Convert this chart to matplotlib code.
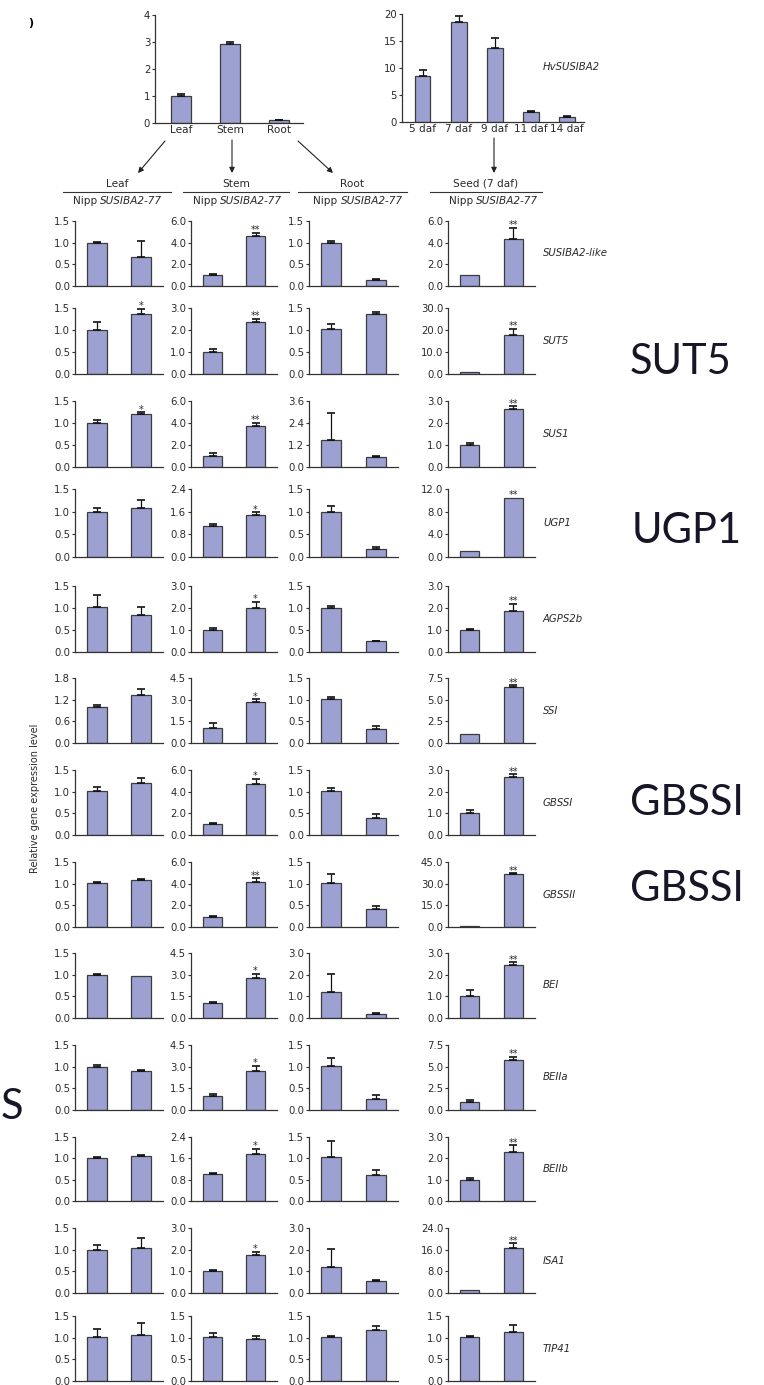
import matplotlib
matplotlib.use("Agg")
import matplotlib.pyplot as plt
import numpy as np

W, H = 764, 1385
plt.rcParams["font.family"] = "DejaVu Sans"
plt.rcParams["font.size"] = 7

BAR = "#9ca1d2"
EDGE = "#3c3c3c"
SPINE = "#333333"
TXT = "#2a2a2a"

# --------------------------------------------------------------------------- #
# Data
# --------------------------------------------------------------------------- #
organs = ["Leaf", "Stem", "Root"]
organ_expr = [1.00, 2.93, 0.10]
organ_err = [0.06, 0.08, 0.02]

daf = ["5 daf", "7 daf", "9 daf", "11 daf", "14 daf"]
daf_expr = [8.5, 18.5, 13.7, 1.8, 1.0]
daf_err = [1.2, 1.1, 1.8, 0.15, 0.12]

genes = ["SUSIBA2-like", "SUT5", "SUS1", "UGP1", "AGPS2b", "SSI", "GBSSI",
         "GBSSII", "BEI", "BEIIa", "BEIIb", "ISA1", "TIP41"]

# (Nipp, SUSIBA2-77) means and upper errors per gene
leaf_mean = [(1.00, 0.68), (1.00, 1.36), (1.01, 1.20), (1.00, 1.08), (1.02, 0.85),
             (0.99, 1.32), (1.01, 1.19), (1.01, 1.08), (1.00, 0.96), (1.00, 0.90),
             (1.00, 1.06), (1.00, 1.05), (1.01, 1.06)]
leaf_err = [(0.02, 0.35), (0.19, 0.12), (0.05, 0.04), (0.08, 0.18), (0.27, 0.18),
            (0.05, 0.18), (0.09, 0.12), (0.02, 0.02), (0.02, 0.00), (0.04, 0.02),
            (0.02, 0.02), (0.11, 0.23), (0.19, 0.29)]
leaf_ymax = [1.5, 1.5, 1.5, 1.5, 1.5, 1.8, 1.5, 1.5, 1.5, 1.5, 1.5, 1.5, 1.5]
leaf_sig = ["", "*", "*", "", "", "", "", "", "", "", "", "", ""]

stem_mean = [(1.03, 4.60), (1.00, 2.38), (1.04, 3.72), (1.08, 1.48), (1.00, 2.00),
             (1.07, 2.87), (1.03, 4.73), (0.95, 4.13), (1.02, 2.78), (0.95, 2.70),
             (1.02, 1.75), (1.01, 1.74), (1.01, 0.97)]
stem_err = [(0.10, 0.32), (0.12, 0.13), (0.20, 0.30), (0.08, 0.10), (0.08, 0.27),
            (0.32, 0.16), (0.09, 0.45), (0.08, 0.37), (0.08, 0.30), (0.15, 0.37),
            (0.03, 0.21), (0.04, 0.16), (0.09, 0.08)]
stem_ymax = [6.0, 3.0, 6.0, 2.4, 3.0, 4.5, 6.0, 6.0, 4.5, 4.5, 2.4, 3.0, 1.5]
stem_sig = ["**", "**", "**", "*", "*", "*", "*", "**", "*", "*", "*", "*", ""]

root_mean = [(1.00, 0.15), (1.03, 1.37), (1.49, 0.56), (1.00, 0.18), (1.00, 0.24),
             (1.02, 0.33), (1.02, 0.40), (1.02, 0.41), (1.20, 0.18), (1.02, 0.25),
             (1.02, 0.62), (1.22, 0.56), (1.01, 1.18)]
root_err = [(0.04, 0.02), (0.11, 0.04), (1.45, 0.06), (0.13, 0.03), (0.04, 0.02),
            (0.04, 0.06), (0.06, 0.09), (0.21, 0.08), (0.85, 0.05), (0.18, 0.10),
            (0.39, 0.11), (0.82, 0.05), (0.03, 0.08)]
root_ymax = [1.5, 1.5, 3.6, 1.5, 1.5, 1.5, 1.5, 1.5, 3.0, 1.5, 1.5, 3.0, 1.5]
root_sig = [""] * 13

seed_mean = [(1.00, 4.32), (1.00, 17.6), (1.01, 2.64), (1.00, 10.4), (1.00, 1.88),
             (1.00, 6.45), (1.00, 2.66), (1.00, 36.6), (1.00, 2.43), (0.95, 5.75),
             (0.98, 2.28), (1.00, 16.6), (1.01, 1.14)]
seed_err = [(0.00, 1.05), (0.00, 3.0), (0.07, 0.12), (0.00, 0.00), (0.04, 0.32),
            (0.00, 0.22), (0.15, 0.14), (0.00, 0.70), (0.27, 0.14), (0.22, 0.40),
            (0.08, 0.34), (0.00, 1.80), (0.02, 0.15)]
seed_ymax = [6.0, 30.0, 3.0, 12.0, 3.0, 7.5, 3.0, 45.0, 3.0, 7.5, 3.0, 24.0, 1.5]
seed_sig = ["**"] * 12 + [""]

columns = [
    (leaf_mean, leaf_err, leaf_ymax, leaf_sig),
    (stem_mean, stem_err, stem_ymax, stem_sig),
    (root_mean, root_err, root_ymax, root_sig),
    (seed_mean, seed_err, seed_ymax, seed_sig),
]

# --------------------------------------------------------------------------- #
# Layout (pixels)
# --------------------------------------------------------------------------- #
row_top = [221, 308, 401, 489, 586, 678, 770, 862, 953, 1045, 1137, 1228, 1316]
row_bot = [286, 374, 467, 557, 652, 743, 835, 927, 1018, 1110, 1201, 1293, 1381]
col_x = [(75, 163), (191, 277), (309, 398), (448, 535)]

fig = plt.figure(figsize=(W / 100, H / 100), dpi=100)


def px_axes(x0, x1, y0, y1):
    return fig.add_axes([x0 / W, 1 - y1 / H, (x1 - x0) / W, (y1 - y0) / H])


def style(ax):
    for s in ("top", "right"):
        ax.spines[s].set_visible(False)
    for s in ("left", "bottom"):
        ax.spines[s].set_color(SPINE)
        ax.spines[s].set_linewidth(0.9)
    ax.tick_params(axis="y", length=2.5, width=0.8, pad=1, labelsize=7.3,
                   colors=SPINE, labelcolor=TXT)
    ax.tick_params(axis="x", length=0, pad=1.5, labelsize=7.6, labelcolor=TXT)
    ax.patch.set_visible(False)


def bars(ax, x, vals, errs, width):
    x = np.asarray(x, dtype=float)
    vals = np.asarray(vals, dtype=float)
    errs = np.asarray(errs, dtype=float)
    ax.bar(x, vals, width=width, color=BAR, edgecolor=EDGE, linewidth=0.9, zorder=2)
    m = errs > 0
    if m.any():
        ax.errorbar(x[m], vals[m], yerr=[np.zeros(m.sum()), errs[m]], fmt="none",
                    ecolor="#111111", elinewidth=0.9, capsize=3.2, capthick=1.2,
                    zorder=3)


# overlay for arrows, headers and free text, in pixel coordinates
ov = fig.add_axes([0, 0, 1, 1])
ov.set_xlim(0, W)
ov.set_ylim(H, 0)
ov.axis("off")

# top-left: organ expression
ax = px_axes(155, 303, 15, 123)
style(ax)
bars(ax, range(3), organ_expr, organ_err, 0.41)
ax.set_xlim(-0.53, 2.49)
ax.set_ylim(0, 4)
ax.set_yticks([0, 1, 2, 3, 4])
ax.set_xticks(range(3))
ax.set_xticklabels(organs)

# top-right: seed development time course
ax = px_axes(402, 584, 14, 122)
style(ax)
bars(ax, range(5), daf_expr, daf_err, 0.42)
ax.set_xlim(-0.58, 4.47)
ax.set_ylim(0, 20)
ax.set_yticks([0, 5, 10, 15, 20])
ax.set_xticks(range(5))
ax.set_xticklabels(daf)
ov.text(543, 67, "HvSUSIBA2", style="italic", fontsize=7.3, color=TXT,
        ha="left", va="center")

# arrows from top panels to the grid columns
arrow_kw = dict(arrowstyle="-|>", color="#222222", lw=0.8, mutation_scale=8,
                shrinkA=0, shrinkB=0)
for start, end in [((165, 141), (138, 173)), ((232, 140), (232, 173)),
                   ((298, 141), (333, 173)), ((494, 138), (494, 173))]:
    ov.annotate("", xy=end, xytext=start, arrowprops=arrow_kw)

# column headers
headers = ["Leaf", "Stem", "Root", "Seed (7 daf)"]
head_lines = [(63, 171), (183, 289), (298, 407), (430, 542)]
head_split = [98.5, 218.5, 339, 474.5]
for name, (l, r), sp in zip(headers, head_lines, head_split):
    ov.plot([l, r], [192, 192], color=SPINE, lw=0.8)
    ov.text((l + r) / 2, 184, name, fontsize=7.6, color=TXT, ha="center", va="center")
    ov.text(sp - 1.5, 201, "Nipp", fontsize=7.6, color=TXT, ha="right", va="center")
    ov.text(sp + 1.5, 201, "SUSIBA2-77", fontsize=7.6, color=TXT, style="italic",
            ha="left", va="center")

# gene x tissue grid
for c, (means, errs, ymaxs, sigs) in enumerate(columns):
    x0, x1 = col_x[c]
    for r in range(len(genes)):
        ax = px_axes(x0, x1, row_top[r], row_bot[r])
        style(ax)
        bars(ax, [0, 1], means[r], errs[r], 0.44)
        ax.set_xlim(-0.5, 1.5)
        ax.set_ylim(0, ymaxs[r])
        ax.set_xticks([])
        ax.set_yticks(np.linspace(0, ymaxs[r], 4))
        ax.set_yticklabels([f"{t:.1f}" for t in np.linspace(0, ymaxs[r], 4)])
        if sigs[r]:
            top = means[r][1] + errs[r][1]
            ax.annotate(sigs[r], xy=(1, top), xytext=(0, -0.3),
                        textcoords="offset points", ha="center", va="baseline",
                        fontsize=7, color=TXT)

for r, g in enumerate(genes):
    ov.text(543, (row_top[r] + row_bot[r]) / 2, g, style="italic", fontsize=7.3,
            color=TXT, ha="left", va="center")

ov.text(35, 798, "Relative gene expression level", rotation=90, fontsize=7,
        color=TXT, ha="center", va="center")
ov.text(31, 23, ")", fontweight="bold", fontsize=8, color="black",
        ha="center", va="center")

# large side labels
big = dict(family="Lato", fontsize=30, color="#161626", ha="left", va="center")
ov.text(630, 362, "SUT5", **big)
ov.text(632, 531, "UGP1", **big)
ov.text(630, 803, "GBSSI", **big)
ov.text(630, 889, "GBSSI", **big)
ov.text(1, 1107, "S", **big)

fig.savefig("out.png", dpi=100)
